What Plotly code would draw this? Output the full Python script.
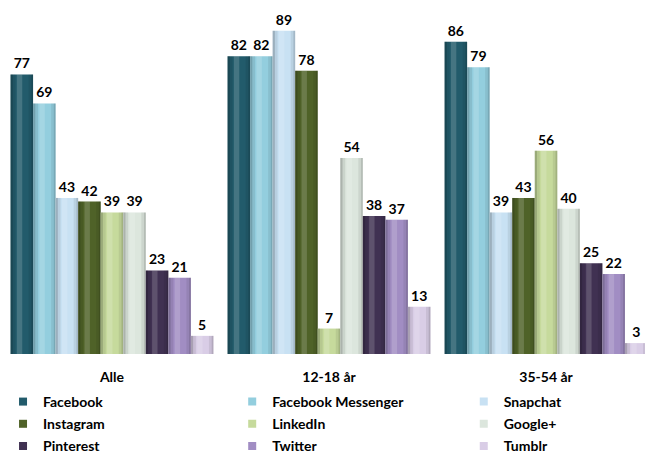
import plotly.graph_objects as go

groups = ["Alle", "12-18 år", "35-54 år"]
series = ["Facebook", "Facebook Messenger", "Snapchat", "Instagram", "LinkedIn",
          "Google+", "Pinterest", "Twitter", "Tumblr"]
facebook = [77, 82, 86]
facebook_messenger = [69, 82, 79]
snapchat = [43, 89, 39]
instagram = [42, 78, 43]
linkedin = [39, 7, 56]
google_plus = [39, 54, 40]
pinterest = [23, 38, 25]
twitter = [21, 37, 22]
tumblr = [5, 13, 3]
values = [facebook, facebook_messenger, snapchat, instagram, linkedin,
          google_plus, pinterest, twitter, tumblr]
colors = ["#225B6B", "#93CEDE", "#C8E1F3", "#4F6228", "#C6DA9C",
          "#DCE6DD", "#403152", "#A18DC3", "#D9CDE6"]
# legend column assignment (3 columns, row-wise order)
legend_ids = ["legend", "legend2", "legend3"] * 3

FONT = "Lato"
GROUP_W = 0.935                 # fraction of a category occupied by bars
n = len(series)
bw = GROUP_W / n                # width of one bar (x units)

# cylinder shading strips: (start fraction, end fraction, rgba)
shading = [
    (0.00, 0.10, "rgba(0,0,0,0.22)"),
    (0.10, 0.22, "rgba(0,0,0,0.08)"),
    (0.28, 0.52, "rgba(255,255,255,0.16)"),
    (0.80, 0.92, "rgba(0,0,0,0.07)"),
    (0.92, 1.00, "rgba(0,0,0,0.18)"),
]

fig = go.Figure()
xs = list(range(len(groups)))
for i, (name, vals, col) in enumerate(zip(series, values, colors)):
    centers = [g - GROUP_W / 2 + bw * (i + 0.5) for g in xs]
    fig.add_trace(go.Bar(
        x=centers, y=vals, name=name, width=bw,
        marker=dict(color=col, line=dict(width=0)),
        text=vals, texttemplate="%{y}", textposition="outside",
        textfont=dict(family=FONT, size=14, color="#000000", weight="bold"),
        cliponaxis=False, showlegend=False, legendgroup=name, hoverinfo="skip",
    ))
    for (a, b, rgba) in shading:
        fig.add_trace(go.Bar(
            x=centers, y=vals, width=bw * (b - a), offset=bw * (a - 0.5),
            marker=dict(color=rgba, line=dict(width=0)),
            showlegend=False, legendgroup=name, hoverinfo="skip",
        ))
for i, (name, col) in enumerate(zip(series, colors)):
    fig.add_trace(go.Scatter(
        x=[None], y=[None], mode="markers", name=name, legendgroup=name,
        marker=dict(symbol="square", size=8, color=col),
        legend=legend_ids[i], showlegend=True,
    ))

legend_common = dict(
    orientation="v", yref="container", yanchor="top", y=0.1498, xanchor="left",
    font=dict(family=FONT, size=14, color="#000000", weight="bold"),
    bgcolor="rgba(0,0,0,0)", tracegroupgap=1, itemclick=False, itemdoubleclick=False,
)
fig.update_layout(
    width=645, height=454,
    margin=dict(l=0, r=0, t=0, b=100, autoexpand=False),
    paper_bgcolor="white", plot_bgcolor="white",
    barmode="overlay",
    font=dict(family=FONT, size=14, color="#000000"),
    xaxis=dict(
        range=[-0.516, 2.456], tickmode="array", tickvals=xs, ticktext=groups,
        tickfont=dict(family=FONT, size=14, color="#000000", weight="bold"),
        showgrid=False, zeroline=False, showline=False, ticks="",
        ticklabelstandoff=13,
    ),
    yaxis=dict(range=[0, 97.5], visible=False, showgrid=False, zeroline=False),
    legend=dict(legend_common, x=0.0047),
    legend2=dict(legend_common, x=0.36),
    legend3=dict(legend_common, x=0.719),
)
fig.write_html("out.html", config={"displayModeBar": False},
               post_script="document.body.style.margin='0px';")
